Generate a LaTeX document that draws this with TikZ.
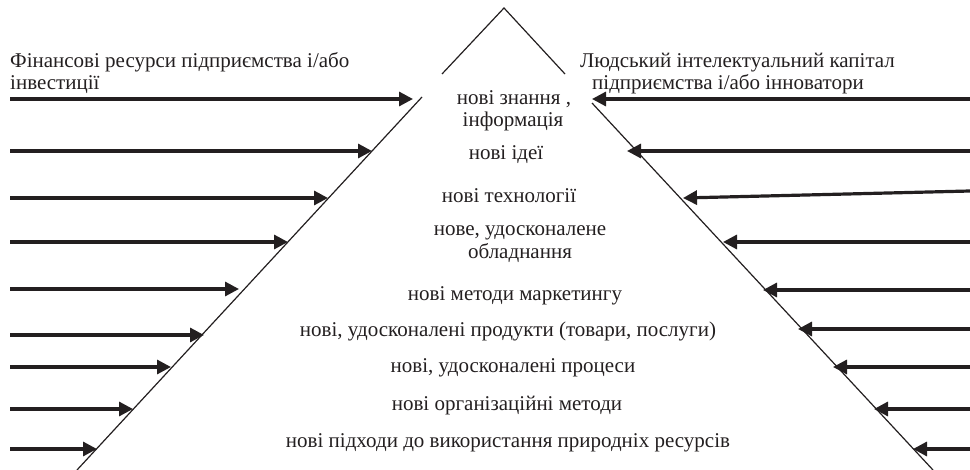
\documentclass[tikz,border=0pt]{standalone}
\usepackage{fontspec}
\setmainfont{Liberation Serif}
\usetikzlibrary{arrows.meta}
\definecolor{ink}{HTML}{231F20}
\begin{document}
\begin{tikzpicture}[x=1pt,y=-1pt,
  arr/.style={line width=3.2pt, draw=ink, -{Triangle[length=14pt,width=14pt]}},
  side/.style={line width=1.2pt, draw=ink},
  lbl/.style={anchor=base, inner sep=0pt, text=ink, font=\fontsize{21}{23}\selectfont},
  hdr/.style={anchor=base west, inner sep=0pt, text=ink, font=\fontsize{21}{23}\selectfont}]
\useasboundingbox (0,0) rectangle (970,470);

% triangle sides
\coordinate (apex) at (504,8);
\coordinate (lgapT) at (442,74);
\coordinate (lgapB) at (422,97);
\coordinate (lbot) at (77,470);
\coordinate (rgapT) at (565,74);
\coordinate (rgapB) at (592,103);
\coordinate (rbot) at (933,470);
\draw[side] (lgapT) -- (apex) -- (rgapT);
\draw[side] (lgapB) -- (lbot);
\draw[side] (rgapB) -- (rbot);

% headers
\node[hdr] (h1) at (10,68) {Фінансові ресурси підприємства і/або};
\node[hdr] (h2) at (10,90) {інвестиції};
\node[hdr] (h3) at (580,68) {Людський інтелектуальний капітал};
\node[hdr] (h4) at (592,90) {підприємства і/або інноватори};

% centre labels
\node[lbl] (t1a) at (514,105) {нові знання ,};
\node[lbl] (t1b) at (513,127) {інформація};
\node[lbl] (t2) at (506,160) {нові ідеї};
\node[lbl] (t3) at (509,203) {нові технології};
\node[lbl] (t4a) at (520,236) {нове, удосконалене};
\node[lbl] (t4b) at (520,259) {обладнання};
\node[lbl] (t5) at (515,301) {нові методи маркетингу};
\node[lbl] (t6) at (508,337) {нові, удосконалені продукти (товари, послуги)};
\node[lbl] (t7) at (513,373) {нові, удосконалені процеси};
\node[lbl] (t8) at (507,410) {нові організаційні методи};
\node[lbl] (t9) at (508,447) {нові підходи до використання природніх ресурсів};

% left arrows
\foreach \i/\y/\x in {1/99/413, 2/151/372, 3/198/328, 4/242/288, 5/289/239, 6/335/204, 7/367/171, 8/409/133, 9/449/97}{
  \coordinate (ls\i) at (10,\y);
  \coordinate (le\i) at (\x,\y);
  \draw[arr] (ls\i) -- (le\i);
}
% right arrows
\foreach \i/\ys/\y/\x in {1/99/99/592, 2/151/151/627, 3/191/198/683, 4/242/242/723, 5/290/290/763, 6/329/329/798, 7/367/367/833, 8/409/409/874, 9/449/449/913}{
  \coordinate (rs\i) at (970,\ys);
  \coordinate (re\i) at (\x,\y);
  \draw[arr] (rs\i) -- (re\i);
}
\end{tikzpicture}
\end{document}
